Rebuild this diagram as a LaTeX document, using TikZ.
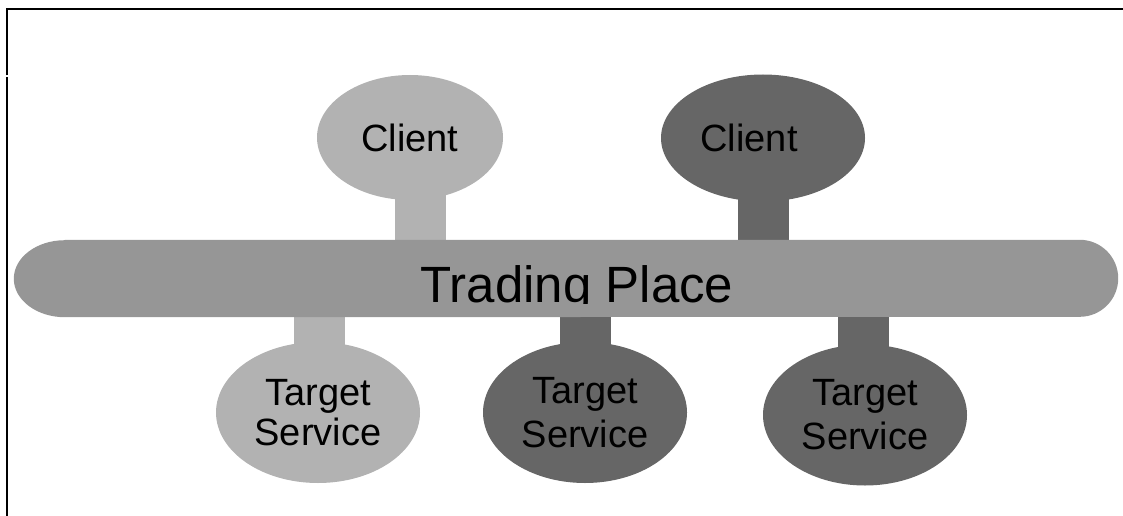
\documentclass[tikz,border=0pt]{standalone}
\usepackage{fontspec}
\setmainfont{Liberation Sans}
\usetikzlibrary{shapes.geometric,backgrounds}
\definecolor{ltgray}{RGB}{178,178,178}
\definecolor{dkgray}{RGB}{102,102,102}
\definecolor{bargray}{RGB}{150,150,150}
\tikzset{
  blob/.style={ellipse, draw=none, inner sep=0pt, align=center,
    font=\fontsize{38}{40}\selectfont},
  ltblob/.style={blob, fill=ltgray},
  dkblob/.style={blob, fill=dkgray},
  stem/.style={line width=51pt},
  frame/.style={line width=2.2pt, black},
}
\begin{document}
\begin{tikzpicture}[x=1pt,y=-1pt]
\useasboundingbox (0,0) rectangle (1123,516);
% frame
\draw[frame] (7,516) -- (7,77);
\draw[frame] (7,75.5) -- (7,9) -- (1123,9);
% bar
\node[rectangle, minimum width=1104pt, minimum height=77pt, inner sep=0pt] (bar) at (566,278.5) {};
% clients
\node[ltblob, minimum width=186pt, minimum height=125pt] (c1) at (410,137.5) {Client};
\node[dkblob, minimum width=204pt, minimum height=127pt] (c2) at (763,138) {\hspace*{-28pt}Client};
% target services
\node[ltblob, minimum width=204pt, minimum height=141pt] (t1) at (318,412.5) {Target\\Service};
\node[dkblob, minimum width=204pt, minimum height=141pt] (t2) at (585,412.5) {Target\\[4pt]Service};
\node[dkblob, minimum width=204pt, minimum height=141pt] (t3) at (865,415) {Target\\[4pt]Service};
% stems (connectors) and bar body
\begin{scope}[on background layer]
\draw[stem, ltgray] ([xshift=10.5pt]c1.center) -- ([xshift=10.5pt]c1.center |- bar.center);
\draw[stem, dkgray] ([xshift=0.5pt]c2.center) -- ([xshift=0.5pt]c2.center |- bar.center);
\draw[stem, ltgray] ([xshift=1.5pt]t1.center) -- ([xshift=1.5pt]t1.center |- bar.center);
\draw[stem, dkgray] ([xshift=0.5pt]t2.center) -- ([xshift=0.5pt]t2.center |- bar.center);
\draw[stem, dkgray] ([xshift=-1.5pt]t3.center) -- ([xshift=-1.5pt]t3.center |- bar.center);
\fill[bargray] ([xshift=51pt]bar.north west) -- ([xshift=-38.5pt]bar.north east)
  arc[start angle=90, end angle=-90, radius=38.5pt]
  -- ([xshift=51pt]bar.south west)
  arc[start angle=270, end angle=90, x radius=51pt, y radius=38.5pt] -- cycle;
\end{scope}
% bar label, clipped at the bottom
\begin{scope}
\clip (0,0) rectangle (1123,303);
\node[anchor=base, inner sep=0pt, font=\fontsize{51}{53}\selectfont] (bartext) at (577,302) {Trading Place};
\end{scope}
\end{tikzpicture}
\end{document}
